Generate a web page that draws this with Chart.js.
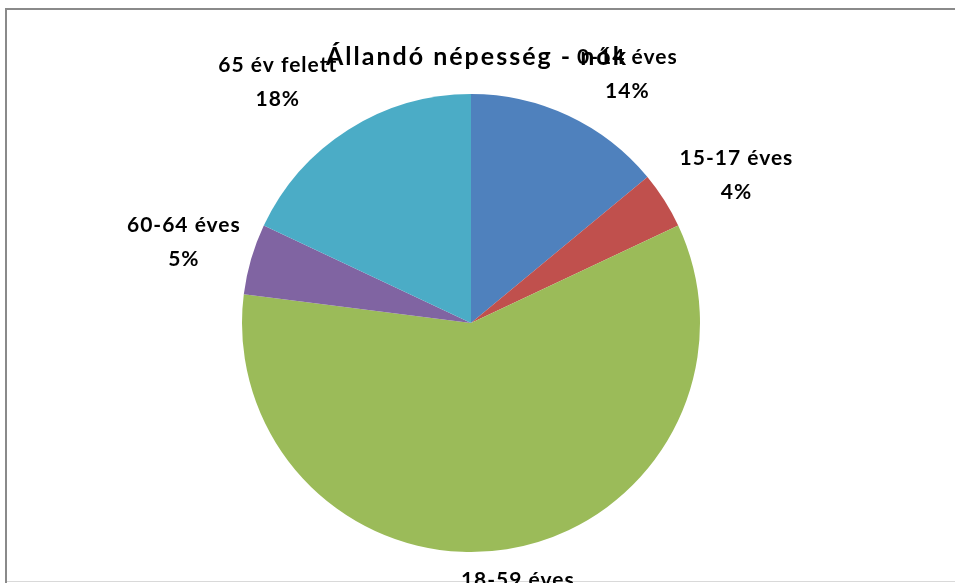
<!DOCTYPE html>
<html>
<head>
<meta charset="utf-8">
<script src="https://cdn.jsdelivr.net/npm/chart.js@4/dist/chart.umd.min.js"></script>
<style>
  html, body { margin: 0; padding: 0; background: #ffffff; }
  #wrap { width: 955px; height: 583px; }
</style>
</head>
<body>
<div id="wrap"><canvas id="c" width="955" height="583"></canvas></div>
<script>
const chartTitle = "Állandó népesség - nők";
const categories = ["0-14 éves", "15-17 éves", "18-59 éves", "60-64 éves", "65 év felett"];
const shares = [14, 4, 59, 5, 18];

const sliceColors = ["#4F81BD", "#C0504D", "#9BBB59", "#8064A2", "#4BACC6"];
const labelNudge = [[29, 22], [13, 12], [0, -21], [0, 3], [-33, 12]];
const FONT = "Lato, 'Open Sans', 'DejaVu Sans', sans-serif";

const framePlugin = {
  id: 'frame',
  beforeDraw(chart) {
    const ctx = chart.ctx;
    ctx.save();
    ctx.fillStyle = '#ffffff';
    ctx.fillRect(0, 0, chart.width, chart.height);
    ctx.strokeStyle = '#8a8a8a';
    ctx.lineWidth = 2;
    ctx.beginPath();
    ctx.moveTo(6, chart.height);
    ctx.lineTo(6, 9);
    ctx.lineTo(chart.width, 9);
    ctx.stroke();
    ctx.strokeStyle = '#d9d9d9';
    ctx.lineWidth = 1;
    ctx.beginPath();
    ctx.moveTo(7, 581.5);
    ctx.lineTo(chart.width, 581.5);
    ctx.stroke();
    ctx.restore();
  }
};

const textPlugin = {
  id: 'texts',
  afterDraw(chart) {
    const ctx = chart.ctx;
    const meta = chart.getDatasetMeta(0);
    const data = chart.data.datasets[0].data;
    const total = data.reduce((a, b) => a + b, 0);
    ctx.save();
    ctx.fillStyle = '#000000';
    ctx.textAlign = 'center';
    ctx.textBaseline = 'middle';
    // title
    ctx.font = "bold 25px " + FONT;
    ctx.letterSpacing = '2px';
    const area = chart.chartArea;
    ctx.fillText(chartTitle, (area.left + area.right) / 2 + 6, 57);
    // slice labels
    ctx.font = "bold 21px " + FONT;
    ctx.letterSpacing = '1px';
    meta.data.forEach((arc, i) => {
      const p = arc.getProps(['x', 'y', 'startAngle', 'endAngle', 'outerRadius'], true);
      const mid = (p.startAngle + p.endAngle) / 2;
      const d = p.outerRadius + 70;
      const cx = p.x + Math.cos(mid) * d + labelNudge[i][0];
      const cy = p.y + Math.sin(mid) * d + labelNudge[i][1];
      const pct = Math.round(data[i] / total * 100) + '%';
      ctx.fillText(chart.data.labels[i], cx, cy - 17);
      ctx.fillText(pct, cx, cy + 17);
    });
    ctx.restore();
  }
};

new Chart(document.getElementById('c'), {
  type: 'pie',
  data: {
    labels: categories,
    datasets: [{
      data: shares,
      backgroundColor: sliceColors,
      borderWidth: 0
    }]
  },
  options: {
    responsive: false,
    animation: false,
    devicePixelRatio: 1,
    layout: { padding: { top: 94, left: 0, right: 13, bottom: 31 } },
    plugins: {
      legend: { display: false },
      tooltip: { enabled: false },
      title: { display: false }
    }
  },
  plugins: [framePlugin, textPlugin]
});
</script>
</body>
</html>
